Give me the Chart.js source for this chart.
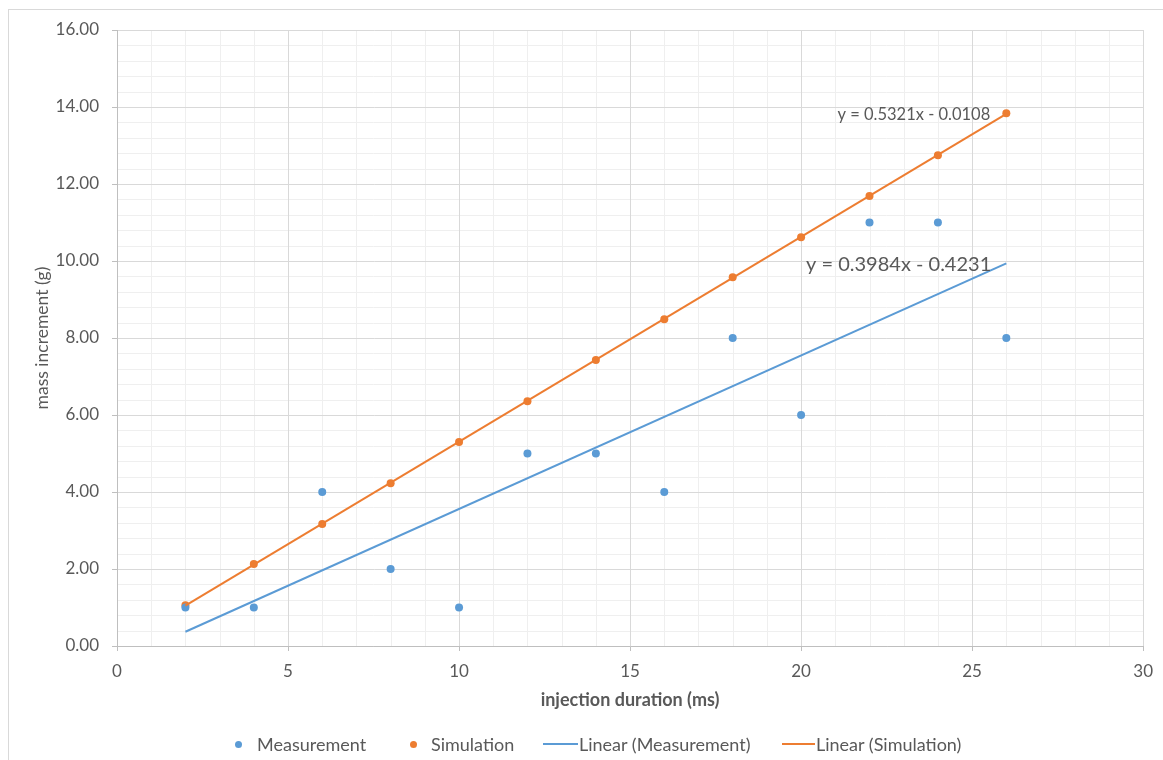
<!DOCTYPE html>
<html>
<head>
<meta charset="utf-8">
<script src="https://cdn.jsdelivr.net/npm/chart.js@4.4.0/dist/chart.umd.min.js"></script>
<style>
  body{margin:0;background:#fff;font-family:Lato,"Open Sans",sans-serif;}
  #frame{position:absolute;left:8px;top:9px;width:1170px;height:770px;border:1px solid #d9d9d9;box-sizing:border-box;}
  #wrap{position:absolute;left:0;top:0;width:1163px;height:760px;}
  .leg{position:absolute;top:733px;height:22px;line-height:22px;font-size:18px;color:#595959;white-space:nowrap;}
  .dot{position:absolute;top:741px;width:7px;height:7px;border-radius:50%;}
  .ln{position:absolute;top:743px;height:2px;}
</style>
</head>
<body>
<div id="frame"></div>
<div id="wrap"><canvas id="chart" width="1163" height="760"></canvas></div>

<!-- legend -->
<div class="dot" style="left:235px;background:#5B9BD5"></div>
<div class="leg" style="left:257px">Measurement</div>
<div class="dot" style="left:410px;background:#ED7D31"></div>
<div class="leg" style="left:431px">Simulation</div>
<div class="ln" style="left:543px;width:35px;background:#5B9BD5"></div>
<div class="leg" style="left:579px">Linear (Measurement)</div>
<div class="ln" style="left:782px;width:33px;background:#ED7D31"></div>
<div class="leg" style="left:816px">Linear (Simulation)</div>

<script>
// ---- data ----
const xValues     = [2, 4, 6, 8, 10, 12, 14, 16, 18, 20, 22, 24, 26];
const measurement = [1, 1, 4, 2, 1, 5, 5, 4, 8, 6, 11, 11, 8];
const simulation  = [1.06, 2.13, 3.17, 4.23, 5.30, 6.36, 7.43, 8.49, 9.58, 10.62, 11.69, 12.75, 13.84];

// trendline end points (x = 2 .. 26)
const trendX           = [2, 26];
const trendMeasurement = [0.37, 9.94];
const trendSimulation  = [1.05, 13.82];

const eqLabels = [
  { text:'y = 0.5321x - 0.0108', x:25.53, y:13.79, size:16.5 },
  { text:'y = 0.3984x - 0.4231', x:25.56, y:9.90,  size:20 }
];

const COLORS = { blue:'#5B9BD5', orange:'#ED7D31', text:'#595959', grid:'#d9d9d9', minor:'#efefef', axis:'#bfbfbf' };

const toPts = (xs, ys) => xs.map((x,i)=>({x, y:ys[i]}));

// minor gridlines under the major ones (excel style)
const minorGrid = {
  id:'minorGrid',
  beforeDraw(chart){
    const {ctx, chartArea:a, scales:{x, y}} = chart;
    ctx.save();
    ctx.strokeStyle = COLORS.minor; ctx.lineWidth = 1;
    for(let i=1;i<30;i++){
      if(i%5===0) continue;
      const px = Math.round(x.getPixelForValue(i))+0.5;
      ctx.beginPath(); ctx.moveTo(px,a.top); ctx.lineTo(px,a.bottom); ctx.stroke();
    }
    for(let i=1;i<40;i++){
      if(i%5===0) continue;
      const py = Math.round(y.getPixelForValue(i*0.4))+0.5;
      ctx.beginPath(); ctx.moveTo(a.left,py); ctx.lineTo(a.right,py); ctx.stroke();
    }
    ctx.restore();
  }
};

// trendline equations
const equations = {
  id:'equations',
  afterDatasetsDraw(chart){
    const {ctx, scales:{x, y}} = chart;
    ctx.save();
    ctx.fillStyle = COLORS.text; ctx.textAlign = 'right'; ctx.textBaseline = 'middle';
    eqLabels.forEach(l=>{
      ctx.font = l.size+'px Lato, "Open Sans", sans-serif';
      ctx.fillText(l.text, x.getPixelForValue(l.x), y.getPixelForValue(l.y));
    });
    ctx.restore();
  }
};

new Chart(document.getElementById('chart').getContext('2d'), {
  type:'scatter',
  data:{
    datasets:[
      { label:'Linear (Measurement)', data:toPts(trendX, trendMeasurement), showLine:true, borderColor:COLORS.blue, borderWidth:2, pointRadius:0 },
      { label:'Linear (Simulation)',  data:toPts(trendX, trendSimulation),  showLine:true, borderColor:COLORS.orange, borderWidth:2, pointRadius:0 },
      { label:'Measurement', data:toPts(xValues, measurement), backgroundColor:COLORS.blue,   borderWidth:0, pointRadius:4 },
      { label:'Simulation',  data:toPts(xValues, simulation),  backgroundColor:COLORS.orange, borderWidth:0, pointRadius:4 }
    ]
  },
  options:{
    responsive:false, animation:false,
    layout:{ padding:{ left:30, right:18, top:30, bottom:49 } },
    plugins:{ legend:{display:false}, tooltip:{enabled:false} },
    scales:{
      x:{
        type:'linear', min:0, max:30,
        afterFit(scale){ scale.height = 65; },
        ticks:{ stepSize:5, color:COLORS.text, font:{family:'Lato', size:17}, padding:10 },
        grid:{ color:COLORS.grid, tickColor:COLORS.axis, tickLength:5 },
        border:{ color:COLORS.axis },
        title:{ display:true, text:'injection duration (ms)', color:COLORS.text, font:{family:'Lato', size:18, weight:'bold'}, padding:{top:6, bottom:0} }
      },
      y:{
        min:0, max:16,
        afterFit(scale){ scale.width = 87; },
        ticks:{ stepSize:2, color:COLORS.text, font:{family:'Lato', size:17}, padding:13, callback:v=>v.toFixed(2) },
        grid:{ color:COLORS.grid, tickColor:COLORS.axis, tickLength:5 },
        border:{ color:COLORS.axis },
        title:{ display:true, text:'mass increment (g)', color:COLORS.text, font:{family:'Lato', size:17.5}, padding:{top:2, bottom:0} }
      }
    }
  },
  plugins:[minorGrid, equations]
});
</script>
</body>
</html>
